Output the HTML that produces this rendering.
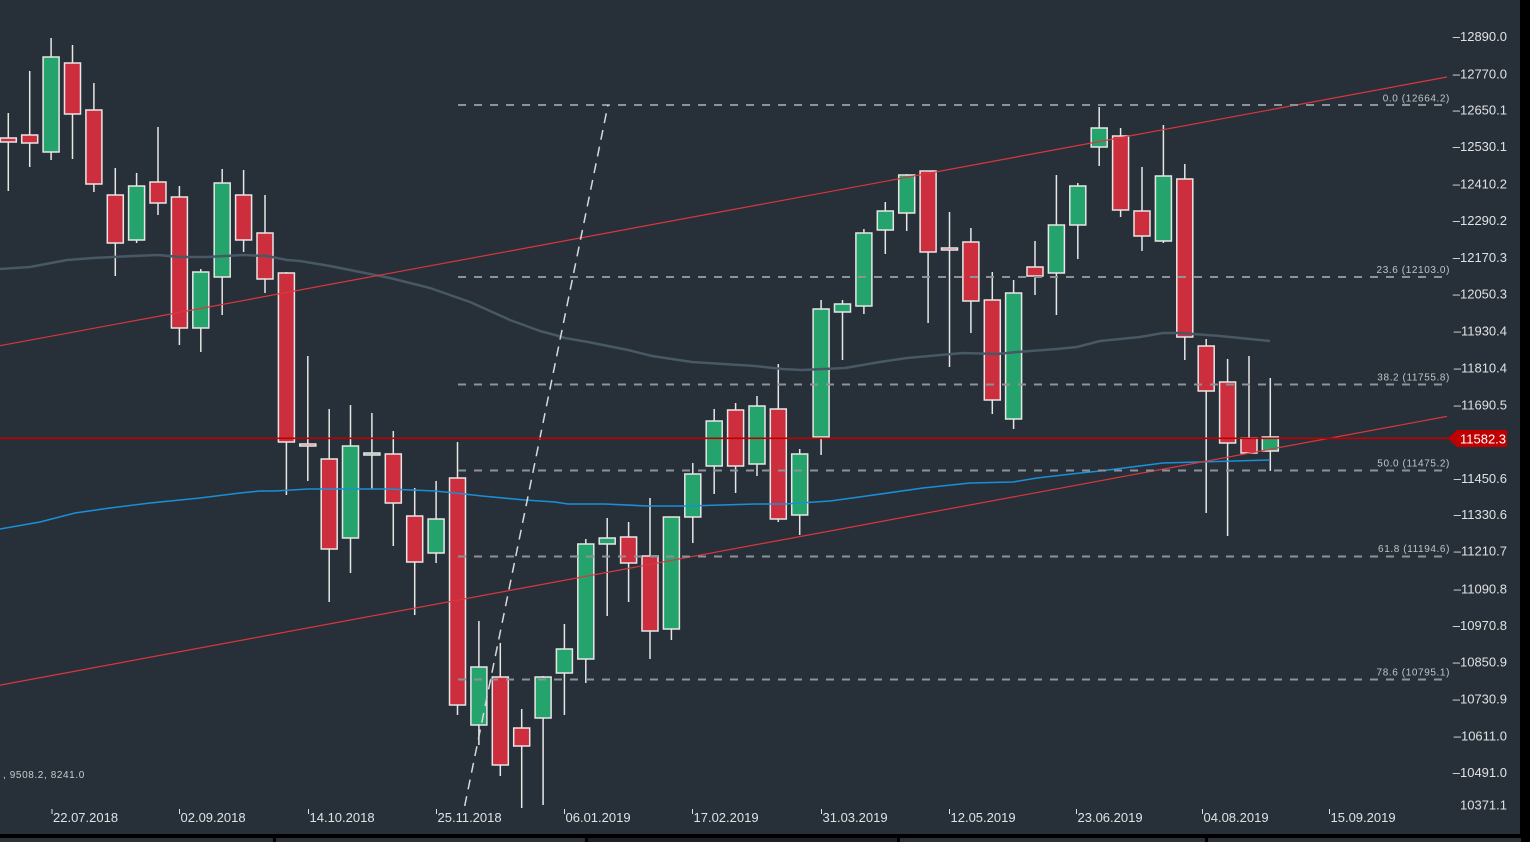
<!DOCTYPE html>
<html><head><meta charset="utf-8"><style>
html,body{margin:0;padding:0;background:#000;}
svg{display:block;}
text{font-family:"Liberation Sans",sans-serif;}
</style></head><body>
<svg width="1530" height="842" viewBox="0 0 1530 842" xmlns="http://www.w3.org/2000/svg">
<rect x="0" y="0" width="1530" height="842" fill="#000"/>
<rect x="0" y="0" width="1520" height="834" fill="#273038"/>
<!-- bottom strip -->
<rect x="0" y="838" width="1521" height="4" fill="#2a3238"/>
<rect x="588" y="838" width="309" height="4" fill="#1b2125"/>
<rect x="273" y="838" width="3" height="4" fill="#000"/>
<rect x="585" y="838" width="3" height="4" fill="#000"/>
<rect x="897" y="838" width="3" height="4" fill="#000"/>
<rect x="1205" y="838" width="3" height="4" fill="#000"/>

<!-- wicks -->
<g stroke="#e6e6e6" stroke-width="1.5">
<line x1="8.3" y1="113" x2="8.3" y2="191"/>
<line x1="29.7" y1="71" x2="29.7" y2="167"/>
<line x1="51.1" y1="38" x2="51.1" y2="160"/>
<line x1="72.5" y1="45" x2="72.5" y2="159"/>
<line x1="93.9" y1="83" x2="93.9" y2="192"/>
<line x1="115.3" y1="168" x2="115.3" y2="276"/>
<line x1="136.6" y1="173" x2="136.6" y2="243"/>
<line x1="158" y1="127" x2="158" y2="215"/>
<line x1="179.4" y1="186" x2="179.4" y2="345"/>
<line x1="200.8" y1="269" x2="200.8" y2="352"/>
<line x1="222.2" y1="169" x2="222.2" y2="315"/>
<line x1="243.6" y1="170" x2="243.6" y2="252"/>
<line x1="265" y1="195" x2="265" y2="293"/>
<line x1="286.4" y1="272" x2="286.4" y2="495"/>
<line x1="307.8" y1="356" x2="307.8" y2="481"/>
<line x1="329.2" y1="409" x2="329.2" y2="602"/>
<line x1="350.5" y1="405" x2="350.5" y2="573"/>
<line x1="371.9" y1="413" x2="371.9" y2="489"/>
<line x1="393.3" y1="431" x2="393.3" y2="546"/>
<line x1="414.7" y1="488" x2="414.7" y2="615"/>
<line x1="436.1" y1="481" x2="436.1" y2="563"/>
<line x1="457.5" y1="442" x2="457.5" y2="715"/>
<line x1="478.9" y1="621" x2="478.9" y2="745"/>
<line x1="500.3" y1="643" x2="500.3" y2="776"/>
<line x1="521.7" y1="709" x2="521.7" y2="808"/>
<line x1="543.1" y1="676" x2="543.1" y2="805"/>
<line x1="564.4" y1="624" x2="564.4" y2="715"/>
<line x1="585.8" y1="539" x2="585.8" y2="683"/>
<line x1="607.2" y1="518" x2="607.2" y2="616"/>
<line x1="628.6" y1="522" x2="628.6" y2="602"/>
<line x1="650" y1="498" x2="650" y2="659"/>
<line x1="671.4" y1="517" x2="671.4" y2="640"/>
<line x1="692.8" y1="463" x2="692.8" y2="543"/>
<line x1="714.2" y1="409" x2="714.2" y2="494"/>
<line x1="735.6" y1="403" x2="735.6" y2="493"/>
<line x1="757" y1="396" x2="757" y2="476"/>
<line x1="778.3" y1="364" x2="778.3" y2="522"/>
<line x1="799.7" y1="449" x2="799.7" y2="535"/>
<line x1="821.1" y1="300" x2="821.1" y2="455"/>
<line x1="842.5" y1="300" x2="842.5" y2="360"/>
<line x1="863.9" y1="229" x2="863.9" y2="314"/>
<line x1="885.3" y1="202" x2="885.3" y2="254"/>
<line x1="906.7" y1="174" x2="906.7" y2="231"/>
<line x1="928.1" y1="171" x2="928.1" y2="323"/>
<line x1="949.5" y1="212" x2="949.5" y2="367"/>
<line x1="970.9" y1="228" x2="970.9" y2="333"/>
<line x1="992.3" y1="272" x2="992.3" y2="414"/>
<line x1="1013.6" y1="280" x2="1013.6" y2="429"/>
<line x1="1035" y1="241" x2="1035" y2="295"/>
<line x1="1056.4" y1="175" x2="1056.4" y2="315"/>
<line x1="1077.8" y1="183" x2="1077.8" y2="259"/>
<line x1="1099.2" y1="107" x2="1099.2" y2="166"/>
<line x1="1120.6" y1="128" x2="1120.6" y2="217"/>
<line x1="1142" y1="167" x2="1142" y2="251"/>
<line x1="1163.4" y1="125" x2="1163.4" y2="243"/>
<line x1="1184.8" y1="164" x2="1184.8" y2="360"/>
<line x1="1206.2" y1="339" x2="1206.2" y2="513"/>
<line x1="1227.6" y1="359" x2="1227.6" y2="536"/>
<line x1="1249" y1="356" x2="1249" y2="453"/>
<line x1="1270.3" y1="378" x2="1270.3" y2="471"/>
</g>

<!-- bodies -->
<g stroke="#e6e6e6" stroke-width="1.5">
<rect x="0.3" y="138" width="16" height="4" fill="#cd2e3e"/>
<rect x="21.7" y="135" width="16" height="8" fill="#cd2e3e"/>
<rect x="43.1" y="57" width="16" height="95" fill="#24a46c"/>
<rect x="64.5" y="63" width="16" height="51" fill="#cd2e3e"/>
<rect x="85.9" y="110" width="16" height="74" fill="#cd2e3e"/>
<rect x="107.3" y="195" width="16" height="48" fill="#cd2e3e"/>
<rect x="128.6" y="186" width="16" height="54" fill="#24a46c"/>
<rect x="150" y="182" width="16" height="21" fill="#cd2e3e"/>
<rect x="171.4" y="197" width="16" height="131" fill="#cd2e3e"/>
<rect x="192.8" y="272" width="16" height="56" fill="#24a46c"/>
<rect x="214.2" y="183" width="16" height="94" fill="#24a46c"/>
<rect x="235.6" y="195" width="16" height="45" fill="#cd2e3e"/>
<rect x="257" y="233" width="16" height="46" fill="#cd2e3e"/>
<rect x="278.4" y="273" width="16" height="169" fill="#cd2e3e"/>
<rect x="299.8" y="444" width="16" height="2" fill="#cd2e3e"/>
<rect x="321.2" y="459" width="16" height="90" fill="#cd2e3e"/>
<rect x="342.5" y="446" width="16" height="92" fill="#24a46c"/>
<rect x="363.9" y="453" width="16" height="2" fill="#24a46c"/>
<rect x="385.3" y="454" width="16" height="49" fill="#cd2e3e"/>
<rect x="406.7" y="516" width="16" height="46" fill="#cd2e3e"/>
<rect x="428.1" y="519" width="16" height="34" fill="#24a46c"/>
<rect x="449.5" y="478" width="16" height="227" fill="#cd2e3e"/>
<rect x="470.9" y="667" width="16" height="58" fill="#24a46c"/>
<rect x="492.3" y="677" width="16" height="88" fill="#cd2e3e"/>
<rect x="513.7" y="728" width="16" height="18" fill="#cd2e3e"/>
<rect x="535.1" y="677" width="16" height="41" fill="#24a46c"/>
<rect x="556.4" y="649" width="16" height="24" fill="#24a46c"/>
<rect x="577.8" y="544" width="16" height="115" fill="#24a46c"/>
<rect x="599.2" y="538" width="16" height="6" fill="#24a46c"/>
<rect x="620.6" y="537" width="16" height="26" fill="#cd2e3e"/>
<rect x="642" y="556" width="16" height="75" fill="#cd2e3e"/>
<rect x="663.4" y="517" width="16" height="112" fill="#24a46c"/>
<rect x="684.8" y="474" width="16" height="43" fill="#24a46c"/>
<rect x="706.2" y="421" width="16" height="45" fill="#24a46c"/>
<rect x="727.6" y="410" width="16" height="56" fill="#cd2e3e"/>
<rect x="749" y="406" width="16" height="58" fill="#24a46c"/>
<rect x="770.3" y="409" width="16" height="110" fill="#cd2e3e"/>
<rect x="791.7" y="454" width="16" height="61" fill="#24a46c"/>
<rect x="813.1" y="309" width="16" height="128" fill="#24a46c"/>
<rect x="834.5" y="304" width="16" height="8" fill="#24a46c"/>
<rect x="855.9" y="233" width="16" height="73" fill="#24a46c"/>
<rect x="877.3" y="211" width="16" height="19" fill="#24a46c"/>
<rect x="898.7" y="175" width="16" height="38" fill="#24a46c"/>
<rect x="920.1" y="171" width="16" height="81" fill="#cd2e3e"/>
<rect x="941.5" y="248" width="16" height="2" fill="#cd2e3e"/>
<rect x="962.9" y="242" width="16" height="59" fill="#cd2e3e"/>
<rect x="984.3" y="300" width="16" height="100" fill="#cd2e3e"/>
<rect x="1005.6" y="293" width="16" height="126" fill="#24a46c"/>
<rect x="1027" y="267" width="16" height="9" fill="#cd2e3e"/>
<rect x="1048.4" y="225" width="16" height="48" fill="#24a46c"/>
<rect x="1069.8" y="186" width="16" height="39" fill="#24a46c"/>
<rect x="1091.2" y="128" width="16" height="19" fill="#24a46c"/>
<rect x="1112.6" y="136" width="16" height="74" fill="#cd2e3e"/>
<rect x="1134" y="211" width="16" height="25" fill="#cd2e3e"/>
<rect x="1155.4" y="176" width="16" height="65" fill="#24a46c"/>
<rect x="1176.8" y="179" width="16" height="158" fill="#cd2e3e"/>
<rect x="1198.2" y="346" width="16" height="45" fill="#cd2e3e"/>
<rect x="1219.6" y="382" width="16" height="61" fill="#cd2e3e"/>
<rect x="1241" y="438" width="16" height="15" fill="#cd2e3e"/>
<rect x="1262.3" y="437" width="16" height="14" fill="#24a46c"/>
</g>

<!-- moving averages -->
<polyline fill="none" stroke="#485864" stroke-width="2.5" stroke-linejoin="round" points="0,269 30,267 67,260 93,258 133,256 158,255 180,257 207,257 243,255 267,256 287,260 300,261 330,266 360,272 390,278 430,288 470,302 510,320 540,331 555,335 565,338 588,342 628,350 652,356 692,362 755,366 782,369 802,370 845,368 880,362 907,358 963,353 997,354 1017,352 1057,349 1077,347 1100,341 1140,337 1163,333 1180,333 1220,336 1270,341"/>
<polyline fill="none" stroke="#1a8fd8" stroke-width="1.6" stroke-linejoin="round" points="0,529 40,522 75,513 110,508 150,503 200,498 240,493 260,491 275,491 308,489 388,489 435,491 455,493 482,496 525,500 555,502 568,504 605,504 648,506 688,506 755,504 785,504 830,501 845,499 923,488 970,483 1013,482 1037,478 1080,473 1100,471 1163,463 1270,460"/>

<!-- trend channel -->
<line x1="0" y1="345.7" x2="1447" y2="77" stroke="#d9363e" stroke-width="1.2"/>
<line x1="0" y1="685.1" x2="1447" y2="416.4" stroke="#d9363e" stroke-width="1.2"/>

<!-- fib levels -->
<g stroke="#8c9297" stroke-width="2" stroke-dasharray="8 8">
<line x1="458" y1="105" x2="1450" y2="105"/>
<line x1="458" y1="277" x2="1450" y2="277"/>
<line x1="458" y1="384.5" x2="1450" y2="384.5"/>
<line x1="458" y1="470.5" x2="1450" y2="470.5"/>
<line x1="458" y1="556.5" x2="1450" y2="556.5"/>
<line x1="458" y1="679.5" x2="1450" y2="679.5"/>
</g>
<line x1="464.7" y1="806" x2="608" y2="105" stroke="#d8d8d8" stroke-width="1.5" stroke-dasharray="10 7"/>

<g fill="#c0c4c7" font-size="10" text-anchor="end" letter-spacing="0.6">
<text x="1450" y="101.5">0.0 (12664.2)</text>
<text x="1450" y="273">23.6 (12103.0)</text>
<text x="1450" y="380.5">38.2 (11755.8)</text>
<text x="1450" y="466.5">50.0 (11475.2)</text>
<text x="1450" y="552">61.8 (11194.6)</text>
<text x="1450" y="675.5">78.6 (10795.1)</text>
</g>

<!-- current price line -->
<line x1="0" y1="438.3" x2="1450" y2="438.3" stroke="#bf0000" stroke-width="1.6"/>
<polygon points="1448,438.3 1457,430 1507,430 1507,447 1457,447" fill="#bf0000"/>
<text x="1460" y="443.5" fill="#ffffff" font-size="13">11582.3</text>

<!-- y axis labels -->
<g fill="#dfe1e3" font-size="13" text-anchor="end">
<text x="1507" y="41">–12890.0</text>
<text x="1507" y="78.5">–12770.0</text>
<text x="1507" y="114.5">–12650.1</text>
<text x="1507" y="151">–12530.1</text>
<text x="1507" y="188.5">–12410.2</text>
<text x="1507" y="225">–12290.2</text>
<text x="1507" y="262">–12170.3</text>
<text x="1507" y="298.5">–12050.3</text>
<text x="1507" y="335.5">–11930.4</text>
<text x="1507" y="372.5">–11810.4</text>
<text x="1507" y="409.5">–11690.5</text>
<text x="1507" y="483">–11450.6</text>
<text x="1507" y="519">–11330.6</text>
<text x="1507" y="555.5">–11210.7</text>
<text x="1507" y="593.5">–11090.8</text>
<text x="1507" y="630">–10970.8</text>
<text x="1507" y="666.5">–10850.9</text>
<text x="1507" y="703.5">–10730.9</text>
<text x="1507" y="740.5">–10611.0</text>
<text x="1507" y="777">–10491.0</text>
<text x="1507" y="809.5">10371.1</text>
</g>

<!-- x axis ticks and labels -->
<g stroke="#dfe1e3" stroke-width="1">
<line x1="52" y1="809" x2="52" y2="814"/>
<line x1="179.5" y1="809" x2="179.5" y2="814"/>
<line x1="308.5" y1="809" x2="308.5" y2="814"/>
<line x1="436.5" y1="809" x2="436.5" y2="814"/>
<line x1="564.5" y1="809" x2="564.5" y2="814"/>
<line x1="692.5" y1="809" x2="692.5" y2="814"/>
<line x1="821.5" y1="809" x2="821.5" y2="814"/>
<line x1="949.5" y1="809" x2="949.5" y2="814"/>
<line x1="1076.5" y1="809" x2="1076.5" y2="814"/>
<line x1="1202.5" y1="809" x2="1202.5" y2="814"/>
<line x1="1329.5" y1="809" x2="1329.5" y2="814"/>
</g>
<g fill="#dfe1e3" font-size="13">
<text x="53" y="822">22.07.2018</text>
<text x="180.5" y="822">02.09.2018</text>
<text x="309.5" y="822">14.10.2018</text>
<text x="437.5" y="822">25.11.2018</text>
<text x="565.5" y="822">06.01.2019</text>
<text x="693.5" y="822">17.02.2019</text>
<text x="822.5" y="822">31.03.2019</text>
<text x="950.5" y="822">12.05.2019</text>
<text x="1077.5" y="822">23.06.2019</text>
<text x="1203.5" y="822">04.08.2019</text>
<text x="1330.5" y="822">15.09.2019</text>
</g>

<text x="3" y="778" fill="#c8ccce" font-size="10" letter-spacing="0.6">, 9508.2, 8241.0</text>
</svg>
</body></html>
